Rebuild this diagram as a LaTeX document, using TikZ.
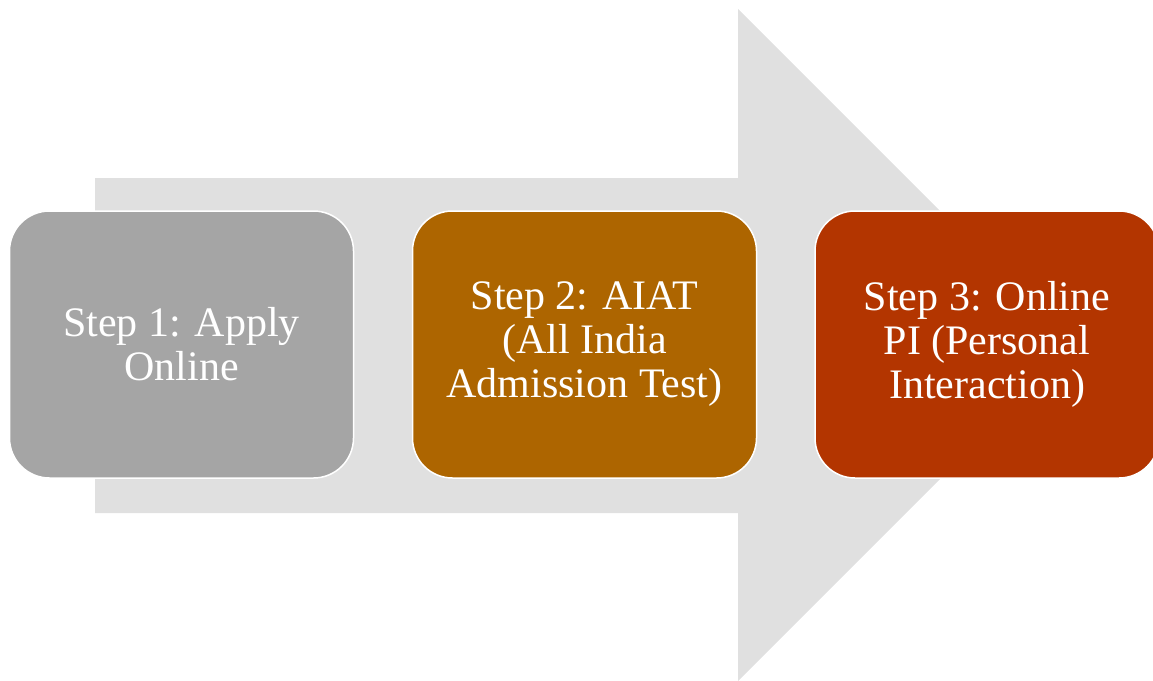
\documentclass[tikz,border=0pt]{standalone}
\usepackage{fontspec}
\setmainfont{Liberation Serif}
\usepackage{tikz}
\usetikzlibrary{positioning}
\definecolor{arrowgray}{HTML}{E0E0E0}
\definecolor{stepgray}{HTML}{A5A5A5}
\definecolor{steporange}{HTML}{AD6500}
\definecolor{stepred}{HTML}{B33500}

\begin{document}
\begin{tikzpicture}[x=1pt, y=-1pt,
	stepbox/.style={draw=white, line width=1.5pt, rounded corners=40pt, minimum width=344pt, minimum height=267pt, align=center, text=white, font=\fontsize{42}{44}\selectfont}]
	
	\useasboundingbox (0,0) rectangle (1153,680);
	
	% big background arrow
	\fill[arrowgray] (95,178) -- (738,178) -- (738,9) -- (1074,345) -- (738,681) -- (738,513) -- (95,513) -- cycle;
	
	% steps
	\node[stepbox, fill=stepgray] (apply) at (181.5,344.5) {Step 1: Apply\\Online};
	\node[stepbox, fill=steporange] (aiat) at (584.5,344.5) {Step 2: AIAT\\(All India\\Admission Test)};
	\node[stepbox, fill=stepred] (pi) at (987,344.5) {Step 3: Online\\PI (Personal\\Interaction)};
	
\end{tikzpicture}
\end{document}
